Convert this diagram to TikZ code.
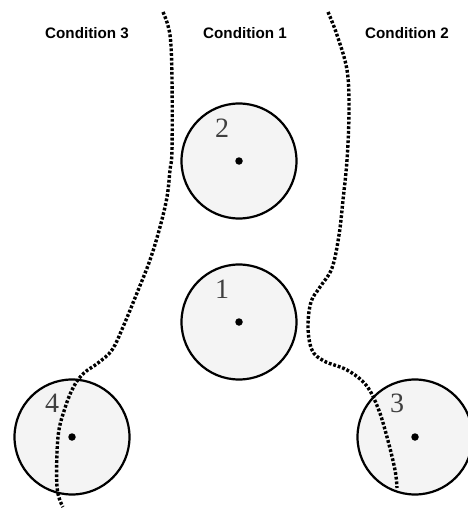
\documentclass[tikz,border=0pt]{standalone}
\usepackage{fontspec}
\setmainfont{Liberation Serif}
\newfontfamily\headfont{Liberation Sans}
\begin{document}
\begin{tikzpicture}[x=1pt,y=-1pt,
  cell/.style={circle,draw=black,line width=2.2pt,fill=gray!9,minimum size=115pt,inner sep=0pt},
  ctr/.style={circle,fill=black,minimum size=7.5pt,inner sep=0pt},
  num/.style={font=\fontsize{28}{28}\selectfont,text=black!75,inner sep=0pt},
  head/.style={font=\headfont\bfseries\fontsize{15.2}{16}\selectfont,inner sep=0pt},
  border/.style={line width=3.4pt,dash pattern=on 2.8pt off 1.9pt,black}]
\useasboundingbox (0,0) rectangle (467,508);
% headings
\node[head] (h3) at (87,33) {Condition 3};
\node[head] (h1) at (245,33) {Condition 1};
\node[head] (h2) at (407,33) {Condition 2};
% cells
\node[cell] (c2) at (239,161) {};
\node[cell] (c1) at (239,322) {};
\node[cell] (c4) at (72,437) {};
\node[cell] (c3) at (415,437) {};
\foreach \c in {c1,c2,c3,c4} \node[ctr] (\c dot) at (\c) {};
\node[num] (n2) at (222,128) {2};
\node[num] (n1) at (222,289) {1};
\node[num] (n4) at (52,403) {4};
\node[num] (n3) at (397,403) {3};
% boundaries
\draw[border] plot[smooth,tension=0.6] coordinates {(163,12) (170,35) (172,80) (172,150) (170,170) (167,197) (160,227) (150,260) (137,293) (123,327) (112,350) (98,363) (84,373) (74,386) (65,408) (58,437) (57,487) (63,507)};
\draw[border] plot[smooth,tension=0.6] coordinates {(328,12) (337,35) (347,70) (349,110) (347,160) (343,200) (339,235) (332,268) (320,287) (311,302) (308,327) (312,350) (324,361) (347,370) (366,385) (378,408) (387,437) (395,470) (397,488)};
\end{tikzpicture}
\end{document}
